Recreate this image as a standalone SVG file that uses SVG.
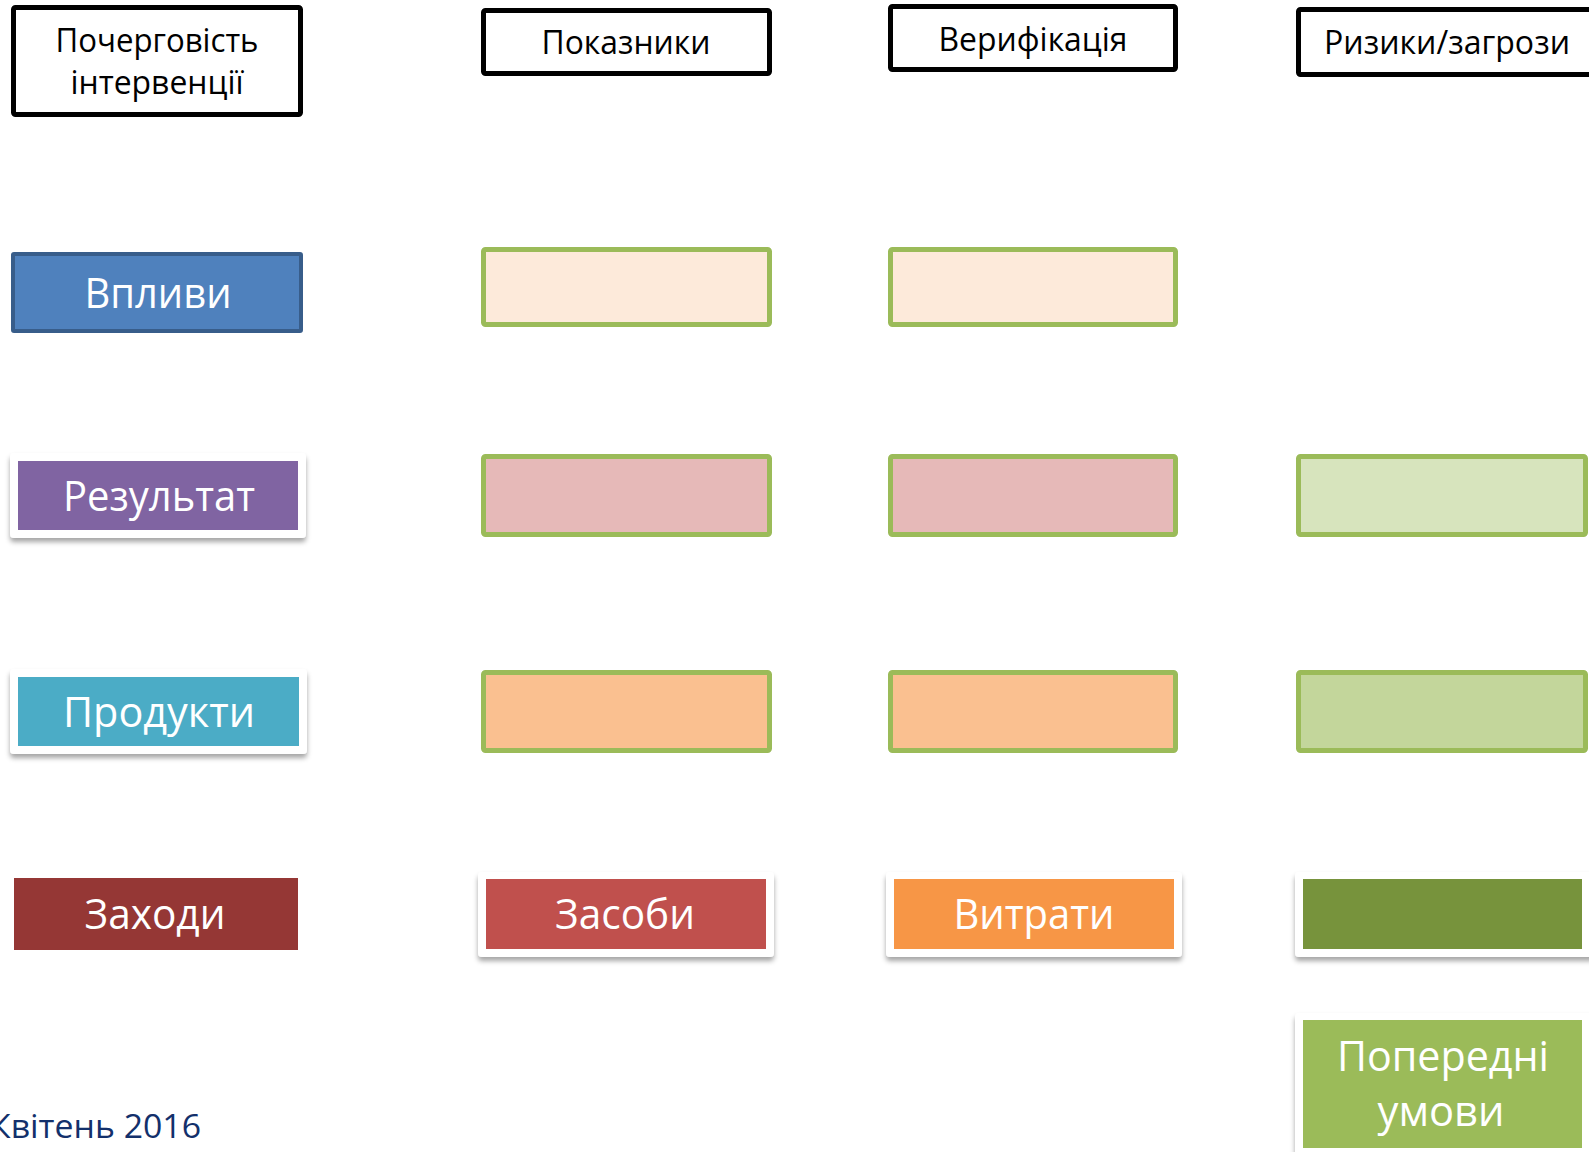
<svg xmlns="http://www.w3.org/2000/svg" width="1589" height="1152" viewBox="0 0 1589 1152">
<defs>
<filter id="sh" x="-10%" y="-20%" width="120%" height="150%">
<feDropShadow dx="0" dy="4" stdDeviation="2.5" flood-color="#000" flood-opacity="0.35"/>
</filter>
<style>
.hdr{fill:#fff;stroke:#000;stroke-width:5}
.cell{stroke:#9BBB59;stroke-width:5}
.frame{fill:#fff;filter:url(#sh)}
.ht{font-family:"Open Sans","Noto Sans",sans-serif;font-size:32px;fill:#000;text-anchor:middle}
.lt{font-family:"Open Sans","Noto Sans",sans-serif;font-size:42px;fill:#fff;text-anchor:middle}
.foot{font-family:"Open Sans","Noto Sans",sans-serif;font-size:32px;fill:#13306B}
</style>
</defs>
<rect width="1589" height="1152" fill="#fff"/>

<g id="hdr-sequence">
<rect class="hdr" x="13.5" y="7.5" width="287" height="107" rx="2"/>
<text class="ht" x="157" y="52" textLength="203" lengthAdjust="spacingAndGlyphs">Почерговість</text>
<text class="ht" x="157" y="94" textLength="173" lengthAdjust="spacingAndGlyphs">інтервенції</text>
</g>
<g id="hdr-indicators">
<rect class="hdr" x="483.5" y="10.5" width="286" height="63" rx="2"/>
<text class="ht" x="626" y="54" textLength="169" lengthAdjust="spacingAndGlyphs">Показники</text>
</g>
<g id="hdr-verification">
<rect class="hdr" x="890.5" y="6.5" width="285" height="63" rx="2"/>
<text class="ht" x="1033" y="51" textLength="189" lengthAdjust="spacingAndGlyphs">Верифікація</text>
</g>
<g id="hdr-risks">
<rect class="hdr" x="1298.5" y="9.5" width="310" height="65" rx="2"/>
<text class="ht" x="1447" y="54" textLength="246" lengthAdjust="spacingAndGlyphs">Ризики/загрози</text>
</g>

<g id="impacts">
<rect x="13" y="254" width="288" height="77" fill="#4F81BD" stroke="#385D8A" stroke-width="4" rx="1"/>
<text class="lt" x="158" y="308" textLength="147" lengthAdjust="spacingAndGlyphs">Впливи</text>
</g>
<g id="impacts-ind"><rect class="cell" x="483.5" y="249.5" width="286" height="75" fill="#FDEADA" rx="2"/></g>
<g id="impacts-ver"><rect class="cell" x="890.5" y="249.5" width="285" height="75" fill="#FDEADA" rx="2"/></g>

<g id="result">
<rect class="frame" x="10" y="453" width="296" height="85" rx="4"/>
<rect x="18" y="461" width="280" height="69" fill="#8064A2"/>
<text class="lt" x="159" y="511" textLength="192" lengthAdjust="spacingAndGlyphs">Результат</text>
</g>
<g id="result-ind"><rect class="cell" x="483.5" y="456.5" width="286" height="78" fill="#E6B9B8" rx="2"/></g>
<g id="result-ver"><rect class="cell" x="890.5" y="456.5" width="285" height="78" fill="#E6B9B8" rx="2"/></g>
<g id="result-risk"><rect class="cell" x="1298.5" y="456.5" width="287" height="78" fill="#D7E4BD" rx="2"/></g>

<g id="products">
<rect class="frame" x="10" y="669" width="297" height="85" rx="4"/>
<rect x="18" y="677" width="281" height="69" fill="#4BACC6"/>
<text class="lt" x="159" y="727" textLength="192" lengthAdjust="spacingAndGlyphs">Продукти</text>
</g>
<g id="products-ind"><rect class="cell" x="483.5" y="672.5" width="286" height="78" fill="#FAC090" rx="2"/></g>
<g id="products-ver"><rect class="cell" x="890.5" y="672.5" width="285" height="78" fill="#FAC090" rx="2"/></g>
<g id="products-risk"><rect class="cell" x="1298.5" y="672.5" width="287" height="78" fill="#C3D69B" rx="2"/></g>

<g id="activities">
<rect x="14" y="878" width="284" height="72" fill="#953735"/>
<text class="lt" x="155" y="929" textLength="141" lengthAdjust="spacingAndGlyphs">Заходи</text>
</g>
<g id="means">
<rect class="frame" x="478" y="872" width="296" height="85" rx="4"/>
<rect x="486" y="879" width="280" height="70" fill="#C0504D"/>
<text class="lt" x="625" y="929" textLength="140" lengthAdjust="spacingAndGlyphs">Засоби</text>
</g>
<g id="costs">
<rect class="frame" x="886" y="872" width="296" height="85" rx="4"/>
<rect x="894" y="879" width="280" height="70" fill="#F79646"/>
<text class="lt" x="1034" y="929" textLength="161" lengthAdjust="spacingAndGlyphs">Витрати</text>
</g>
<g id="activities-risk">
<rect class="frame" x="1295" y="872" width="300" height="85" rx="4"/>
<rect x="1303" y="879" width="279" height="70" fill="#77933C"/>
</g>

<g id="preconditions">
<rect class="frame" x="1295" y="1013" width="300" height="150" rx="4"/>
<rect x="1303" y="1020" width="279" height="128" fill="#9BBB59"/>
<text class="lt" x="1443" y="1071" textLength="212" lengthAdjust="spacingAndGlyphs">Попередні</text>
<text class="lt" x="1441" y="1126" textLength="127" lengthAdjust="spacingAndGlyphs">умови</text>
</g>

<g id="connectors"></g>

<text class="foot" x="-10" y="1138" textLength="211" lengthAdjust="spacingAndGlyphs">Квітень 2016</text>
</svg>
